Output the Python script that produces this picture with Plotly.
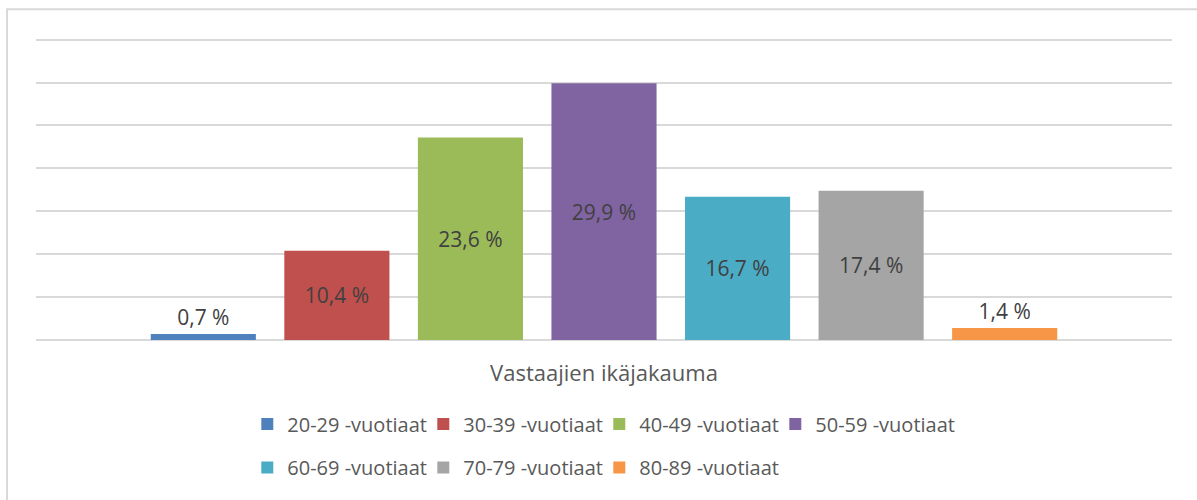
import plotly.graph_objects as go

category = ["Vastaajien ikäjakauma"]
series_names = ["20-29 -vuotiaat", "30-39 -vuotiaat", "40-49 -vuotiaat", "50-59 -vuotiaat",
                "60-69 -vuotiaat", "70-79 -vuotiaat", "80-89 -vuotiaat"]
values = [0.7, 10.4, 23.6, 29.9, 16.7, 17.4, 1.4]
colors = ["#4F81BD", "#C0504D", "#9BBB59", "#8064A2", "#4BACC6", "#A5A5A5", "#F79646"]

FONT = "Open Sans"

fig = go.Figure()
for i, (name, v, c) in enumerate(zip(series_names, values, colors)):
    label = f"{v:.1f}".replace(".", ",") + " %"
    last_in_row = i in (3, 6)
    fig.add_trace(go.Bar(
        x=category, y=[v], name=name,
        marker=dict(color=c, line=dict(width=0)),
        text=[label], textposition="inside" if v > 5 else "outside",
        insidetextanchor="middle",
        textfont=dict(family=FONT, size=21, color="#404040"),
        insidetextfont=dict(family=FONT, size=21, color="#404040"),
        outsidetextfont=dict(family=FONT, size=21, color="#404040"),
        textangle=0, cliponaxis=False,
        legend="legend" if i < 4 else "legend2",
        legendwidth=160 if last_in_row else 131,
        hoverinfo="skip",
    ))

legend_common = dict(
    orientation="h", xanchor="left", yanchor="middle",
    font=dict(family=FONT, size=20, color="#595959"),
    itemwidth=30, bgcolor="rgba(0,0,0,0)",
    traceorder="normal",
)

# plot area: 36..1172 px wide, baseline at 340 px, 35 % at 40 px
fig.update_layout(
    width=1197, height=500,
    margin=dict(l=36, r=25, t=31.43, b=160, autoexpand=False),
    paper_bgcolor="white", plot_bgcolor="white",
    barmode="group", bargap=0.177, bargroupgap=0.213,
    font=dict(family=FONT, color="#595959"),
    showlegend=True,
    legend=dict(x=0.186, y=-0.272, **legend_common),
    legend2=dict(x=0.186, y=-0.413, **legend_common),
    xaxis=dict(showgrid=False, showline=False, zeroline=False, ticks="",
               ticklabelstandoff=18,
               tickfont=dict(family=FONT, size=22, color="#595959")),
    yaxis=dict(range=[0, 36], tickvals=[0, 5, 10, 15, 20, 25, 30, 35],
               showticklabels=False, showgrid=True,
               gridcolor="#D9D9D9", gridwidth=1.5, zeroline=True,
               zerolinecolor="#D9D9D9", zerolinewidth=1.5, showline=False),
    shapes=[dict(type="rect", xref="paper", yref="paper",
                 x0=-0.0255, x1=1.03, y0=-0.6, y1=1.07,
                 line=dict(color="#D9D9D9", width=2), fillcolor="rgba(0,0,0,0)",
                 layer="below")],
)

fig.write_html("out.html", post_script="document.body.style.margin='0';",
               config={"displayModeBar": False})
